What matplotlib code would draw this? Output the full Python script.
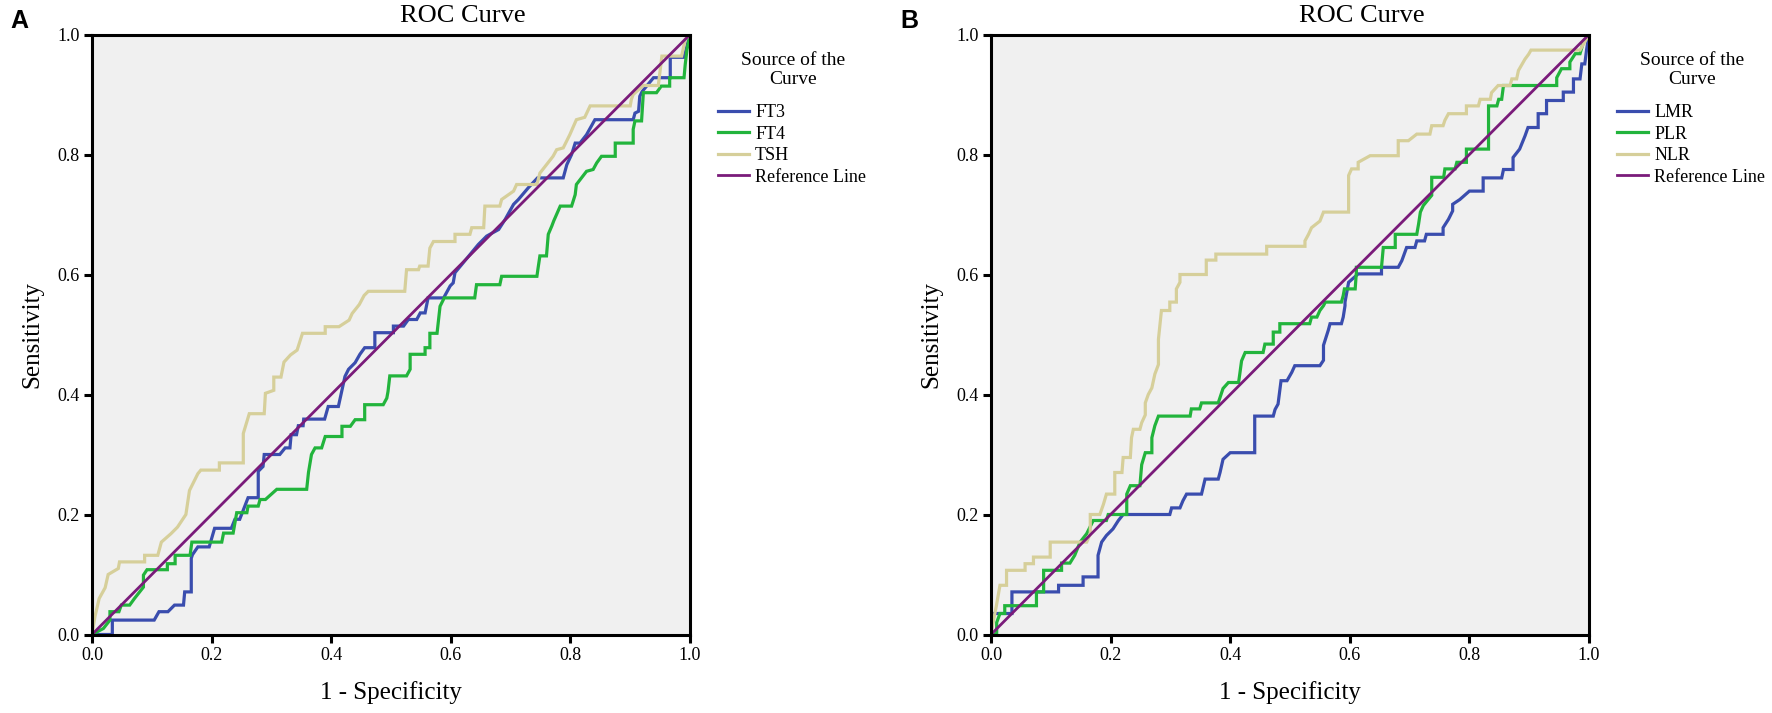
import matplotlib
matplotlib.use("Agg")
import matplotlib.pyplot as plt

plt.rcParams['font.family'] = ['Liberation Serif', 'DejaVu Serif']

# ---- Panel A: thyroid markers (1 - specificity, sensitivity) ----
ft3_fpr = [0, 0.034, 0.034, 0.104, 0.112, 0.127, 0.138, 0.153, 0.155, 0.166, 0.166, 0.168, 0.177, 0.196,
           0.205, 0.233, 0.239, 0.247, 0.261, 0.278, 0.278, 0.286, 0.288, 0.314, 0.323, 0.331, 0.333, 0.342,
           0.345, 0.353, 0.354, 0.389, 0.395, 0.412, 0.423, 0.429, 0.44, 0.448, 0.456, 0.473, 0.473, 0.504,
           0.504, 0.521, 0.529, 0.543, 0.549, 0.557, 0.562, 0.588, 0.599, 0.604, 0.607, 0.646, 0.66, 0.68,
           0.691, 0.705, 0.713, 0.73, 0.745, 0.788, 0.794, 0.802, 0.808, 0.816, 0.827, 0.841, 0.905, 0.908,
           0.914, 0.916, 0.92, 0.939, 0.967, 0.967, 0.99, 1.0]
ft3_tpr = [0, 0, 0.024, 0.024, 0.038, 0.038, 0.049, 0.049, 0.071, 0.071, 0.127, 0.133, 0.146, 0.146,
           0.177, 0.177, 0.192, 0.192, 0.228, 0.228, 0.272, 0.28, 0.3, 0.3, 0.311, 0.311, 0.333, 0.333,
           0.348, 0.348, 0.359, 0.359, 0.38, 0.38, 0.43, 0.442, 0.453, 0.467, 0.478, 0.478, 0.503, 0.503,
           0.514, 0.514, 0.525, 0.525, 0.536, 0.536, 0.561, 0.561, 0.581, 0.586, 0.603, 0.65, 0.664, 0.675,
           0.692, 0.717, 0.725, 0.745, 0.761, 0.761, 0.783, 0.8, 0.819, 0.819, 0.833, 0.858, 0.858, 0.869,
           0.872, 0.897, 0.905, 0.928, 0.928, 0.962, 0.962, 1.0]

ft4_fpr = [0, 0.019, 0.03, 0.03, 0.045, 0.049, 0.063, 0.071, 0.086, 0.086, 0.092, 0.126, 0.126, 0.139,
           0.139, 0.164, 0.167, 0.217, 0.22, 0.236, 0.242, 0.259, 0.261, 0.278, 0.281, 0.29, 0.309, 0.359,
           0.362, 0.367, 0.373, 0.384, 0.39, 0.418, 0.418, 0.432, 0.44, 0.456, 0.456, 0.487, 0.493, 0.495,
           0.498, 0.526, 0.532, 0.532, 0.557, 0.557, 0.565, 0.565, 0.577, 0.582, 0.589, 0.64, 0.643, 0.682,
           0.685, 0.744, 0.746, 0.749, 0.76, 0.763, 0.769, 0.772, 0.783, 0.802, 0.808, 0.81, 0.827, 0.838,
           0.844, 0.852, 0.875, 0.875, 0.905, 0.905, 0.908, 0.919, 0.922, 0.944, 0.952, 0.966, 0.966, 0.99,
           0.992, 0.995, 1.0]
ft4_tpr = [0, 0.01, 0.024, 0.038, 0.038, 0.049, 0.049, 0.06, 0.079, 0.099, 0.108, 0.108, 0.118, 0.118,
           0.132, 0.132, 0.154, 0.154, 0.169, 0.169, 0.203, 0.203, 0.214, 0.214, 0.225, 0.225, 0.242, 0.242,
           0.27, 0.3, 0.311, 0.311, 0.33, 0.33, 0.347, 0.347, 0.358, 0.358, 0.383, 0.383, 0.394, 0.405,
           0.431, 0.431, 0.442, 0.467, 0.467, 0.478, 0.478, 0.502, 0.502, 0.547, 0.561, 0.561, 0.583, 0.583,
           0.597, 0.597, 0.611, 0.631, 0.631, 0.667, 0.681, 0.689, 0.714, 0.714, 0.733, 0.75, 0.772, 0.775,
           0.786, 0.797, 0.797, 0.819, 0.819, 0.842, 0.856, 0.856, 0.903, 0.903, 0.914, 0.914, 0.928, 0.928,
           0.95, 0.975, 1.0]

tsh_fpr = [0, 0.005, 0.012, 0.022, 0.027, 0.044, 0.046, 0.088, 0.088, 0.11, 0.116, 0.132, 0.143, 0.157,
           0.163, 0.177, 0.182, 0.213, 0.213, 0.253, 0.253, 0.263, 0.288, 0.29, 0.304, 0.304, 0.316, 0.321,
           0.332, 0.343, 0.352, 0.39, 0.39, 0.413, 0.43, 0.435, 0.447, 0.455, 0.462, 0.523, 0.526, 0.546,
           0.548, 0.562, 0.565, 0.571, 0.607, 0.607, 0.632, 0.635, 0.655, 0.657, 0.682, 0.685, 0.705, 0.71,
           0.744, 0.749, 0.771, 0.777, 0.788, 0.799, 0.81, 0.824, 0.833, 0.9, 0.902, 0.905, 0.922, 0.947,
           0.953, 0.986, 0.992, 1.0]
tsh_tpr = [0, 0.03, 0.06, 0.078, 0.1, 0.11, 0.121, 0.121, 0.132, 0.132, 0.154, 0.168, 0.179, 0.2,
           0.24, 0.268, 0.274, 0.274, 0.286, 0.286, 0.335, 0.368, 0.368, 0.402, 0.407, 0.429, 0.429, 0.454,
           0.466, 0.474, 0.502, 0.502, 0.513, 0.513, 0.524, 0.535, 0.55, 0.565, 0.572, 0.572, 0.608, 0.608,
           0.614, 0.614, 0.644, 0.655, 0.655, 0.667, 0.667, 0.678, 0.678, 0.714, 0.714, 0.725, 0.739, 0.75,
           0.75, 0.769, 0.797, 0.808, 0.811, 0.833, 0.858, 0.862, 0.881, 0.881, 0.892, 0.9, 0.915, 0.915,
           0.964, 0.964, 0.992, 1.0]

# ---- Panel B: blood cell ratios ----
lmr_fpr = [0, 0.003, 0.035, 0.035, 0.113, 0.113, 0.154, 0.154, 0.179, 0.179, 0.185, 0.193, 0.204, 0.213,
           0.221, 0.299, 0.302, 0.316, 0.321, 0.327, 0.352, 0.358, 0.38, 0.383, 0.388, 0.4, 0.441, 0.441,
           0.472, 0.475, 0.48, 0.485, 0.495, 0.503, 0.508, 0.55, 0.556, 0.556, 0.564, 0.567, 0.586, 0.589,
           0.592, 0.592, 0.598, 0.614, 0.653, 0.653, 0.681, 0.687, 0.695, 0.709, 0.712, 0.725, 0.728, 0.756,
           0.756, 0.765, 0.772, 0.772, 0.784, 0.8, 0.823, 0.823, 0.854, 0.857, 0.873, 0.873, 0.884, 0.893,
           0.898, 0.915, 0.915, 0.929, 0.929, 0.957, 0.957, 0.974, 0.974, 0.985, 0.988, 0.993, 0.996, 1.0]
lmr_tpr = [0, 0.035, 0.035, 0.071, 0.071, 0.082, 0.082, 0.096, 0.096, 0.132, 0.154, 0.165, 0.176, 0.19,
           0.2, 0.2, 0.211, 0.211, 0.223, 0.234, 0.234, 0.259, 0.259, 0.27, 0.292, 0.303, 0.303, 0.364,
           0.364, 0.375, 0.384, 0.423, 0.423, 0.437, 0.448, 0.448, 0.457, 0.482, 0.507, 0.518, 0.518, 0.529,
           0.548, 0.554, 0.587, 0.601, 0.601, 0.612, 0.612, 0.623, 0.645, 0.645, 0.656, 0.656, 0.667, 0.667,
           0.678, 0.692, 0.706, 0.717, 0.725, 0.739, 0.739, 0.761, 0.761, 0.775, 0.775, 0.795, 0.809, 0.831,
           0.845, 0.845, 0.868, 0.868, 0.89, 0.89, 0.904, 0.904, 0.926, 0.926, 0.951, 0.951, 0.975, 1.0]

plr_fpr = [0, 0.0095, 0.0095, 0.015, 0.023, 0.023, 0.076, 0.076, 0.088, 0.088, 0.118, 0.118, 0.132, 0.14,
           0.149, 0.16, 0.171, 0.193, 0.196, 0.227, 0.227, 0.233, 0.249, 0.252, 0.258, 0.269, 0.269, 0.274,
           0.28, 0.333, 0.335, 0.349, 0.352, 0.38, 0.388, 0.397, 0.414, 0.416, 0.419, 0.425, 0.455, 0.458,
           0.472, 0.472, 0.483, 0.483, 0.533, 0.536, 0.545, 0.55, 0.556, 0.559, 0.586, 0.589, 0.591, 0.609,
           0.611, 0.611, 0.653, 0.656, 0.676, 0.676, 0.712, 0.715, 0.718, 0.723, 0.737, 0.737, 0.757, 0.759,
           0.776, 0.779, 0.795, 0.795, 0.832, 0.832, 0.846, 0.849, 0.854, 0.857, 0.946, 0.946, 0.954, 0.968,
           0.968, 0.977, 0.985, 0.99, 1.0]
plr_tpr = [0, 0, 0.02, 0.035, 0.035, 0.048, 0.048, 0.071, 0.071, 0.107, 0.107, 0.119, 0.119, 0.132,
           0.154, 0.168, 0.19, 0.19, 0.2, 0.2, 0.234, 0.248, 0.248, 0.283, 0.303, 0.303, 0.328, 0.348,
           0.364, 0.364, 0.376, 0.376, 0.386, 0.386, 0.41, 0.42, 0.42, 0.434, 0.456, 0.47, 0.47, 0.484,
           0.484, 0.504, 0.504, 0.518, 0.518, 0.529, 0.529, 0.54, 0.548, 0.554, 0.554, 0.565, 0.576, 0.576,
           0.604, 0.612, 0.612, 0.645, 0.645, 0.667, 0.667, 0.684, 0.704, 0.715, 0.732, 0.762, 0.762, 0.776,
           0.776, 0.787, 0.787, 0.809, 0.809, 0.881, 0.881, 0.892, 0.892, 0.915, 0.915, 0.928, 0.943, 0.943,
           0.954, 0.968, 0.968, 0.985, 1.0]

nlr_fpr = [0, 0.0035, 0.009, 0.015, 0.026, 0.026, 0.057, 0.057, 0.071, 0.071, 0.099, 0.099, 0.16, 0.166,
           0.166, 0.182, 0.188, 0.193, 0.207, 0.207, 0.219, 0.221, 0.233, 0.235, 0.238, 0.249, 0.252, 0.258,
           0.258, 0.263, 0.269, 0.274, 0.28, 0.28, 0.285, 0.299, 0.299, 0.31, 0.31, 0.316, 0.316, 0.36,
           0.36, 0.376, 0.376, 0.461, 0.461, 0.525, 0.525, 0.531, 0.536, 0.55, 0.556, 0.598, 0.598, 0.603,
           0.614, 0.614, 0.634, 0.681, 0.681, 0.698, 0.712, 0.734, 0.737, 0.756, 0.759, 0.765, 0.795, 0.795,
           0.815, 0.818, 0.835, 0.837, 0.848, 0.868, 0.871, 0.879, 0.882, 0.893, 0.899, 0.903, 0.985, 1.0]
nlr_tpr = [0, 0.02, 0.048, 0.082, 0.082, 0.107, 0.107, 0.118, 0.118, 0.129, 0.129, 0.154, 0.154, 0.168,
           0.2, 0.2, 0.217, 0.234, 0.234, 0.27, 0.27, 0.295, 0.295, 0.328, 0.342, 0.342, 0.353, 0.366,
           0.386, 0.4, 0.411, 0.434, 0.45, 0.492, 0.54, 0.54, 0.554, 0.554, 0.576, 0.587, 0.6, 0.6,
           0.624, 0.624, 0.634, 0.634, 0.647, 0.647, 0.656, 0.667, 0.678, 0.689, 0.704, 0.704, 0.765, 0.776,
           0.776, 0.787, 0.798, 0.798, 0.823, 0.823, 0.834, 0.834, 0.848, 0.848, 0.857, 0.868, 0.868, 0.881,
           0.881, 0.892, 0.892, 0.903, 0.915, 0.915, 0.926, 0.926, 0.94, 0.959, 0.967, 0.974, 0.974, 1.0]

ref_line = [0.0, 1.0]
ticks = [0.0, 0.2, 0.4, 0.6, 0.8, 1.0]
tick_labels = ['0.0', '0.2', '0.4', '0.6', '0.8', '1.0']

panels = [
    ('A', [('FT3', ft3_fpr, ft3_tpr), ('FT4', ft4_fpr, ft4_tpr), ('TSH', tsh_fpr, tsh_tpr)]),
    ('B', [('LMR', lmr_fpr, lmr_tpr), ('PLR', plr_fpr, plr_tpr), ('NLR', nlr_fpr, nlr_tpr)]),
]
curve_colors = ['#3A4DAE', '#22B43C', '#D6CF9A']
ref_color = '#7A1B7A'

W, H = 1772, 713
fig = plt.figure(figsize=(W / 100, H / 100), dpi=100)

for i, (letter, curves) in enumerate(panels):
    off = i * 899
    ax = fig.add_axes([(92 + off) / W, (H - 634.5) / H, 598 / W, 600 / H])
    ax.set_facecolor('#F0F0F0')

    for (name, fpr, tpr), col in zip(curves, curve_colors):
        ax.plot(fpr, tpr, color=col, lw=2.3, label=name, solid_joinstyle='miter')
    ax.plot(ref_line, ref_line, color=ref_color, lw=2.0, label='Reference Line')

    ax.set_xlim(0, 1)
    ax.set_ylim(0, 1)
    ax.set_xticks(ticks)
    ax.set_yticks(ticks)
    ax.set_xticklabels(tick_labels)
    ax.set_yticklabels(tick_labels)
    ax.tick_params(direction='out', length=6, width=2.2, labelsize=13, pad=3, color='black')
    for sp in ax.spines.values():
        sp.set_linewidth(2.2)
        sp.set_color('black')

    ax.set_xlabel('1 - Specificity', fontsize=18, labelpad=12)
    ax.set_ylabel('Sensitivity', fontsize=18, labelpad=10)

    # legend entries, with the two-line heading drawn separately above them
    ax.legend(loc='upper left', bbox_to_anchor=(1.047, 0.884), frameon=False,
              fontsize=13, handlelength=1.7, handletextpad=0.35, labelspacing=0.25,
              borderpad=0, borderaxespad=0)
    ax.text(1.172, 0.941, 'Source of the\nCurve', transform=ax.transAxes, fontsize=14,
            ha='center', va='center', multialignment='center', linespacing=1.15)

    fig.text((463 + off) / W, 1 - 16 / H, 'ROC Curve', fontsize=19, ha='center', va='center')
    fig.text((10 + off * 0.99) / W, 1 - 21 / H, letter, fontsize=18, fontweight='bold',
             family='Liberation Sans', ha='left', va='center')

fig.savefig('out.png', dpi=100)
